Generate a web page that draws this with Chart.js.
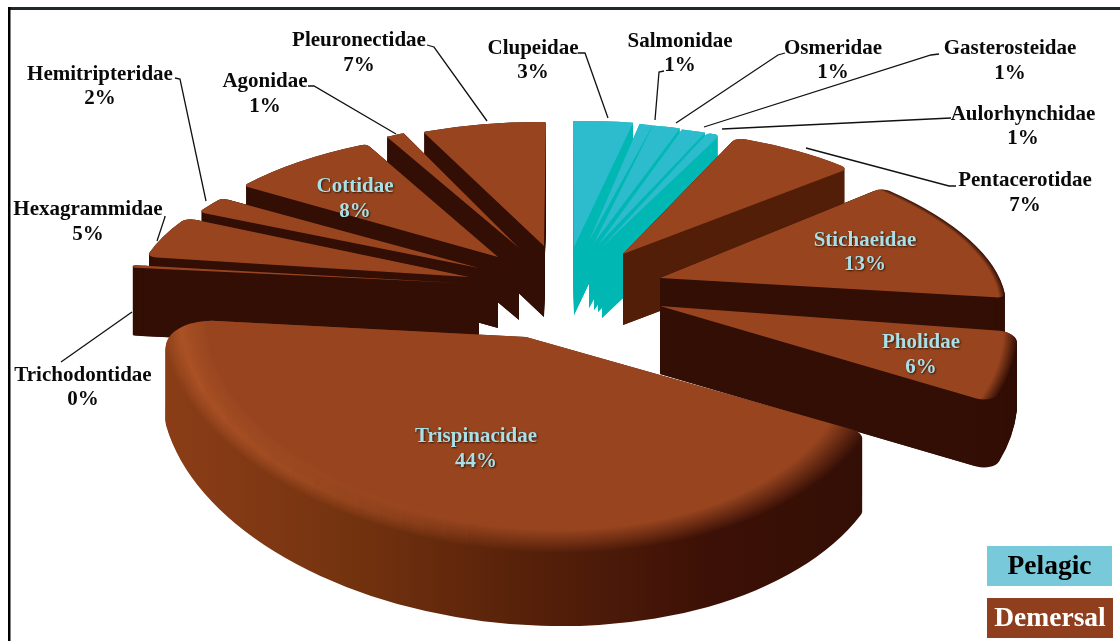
<!DOCTYPE html>
<html><head><meta charset="utf-8">
<style>html,body{margin:0;padding:0;background:#fff}canvas{display:block}</style>
<script src="https://cdn.jsdelivr.net/npm/chart.js@4"></script></head>
<body><canvas id="c" width="1120" height="641"></canvas>
<script>
// ---- data (percent shares; 1% slices differ slightly in width)
const families = ["Clupeidae","Salmonidae","Osmeridae","Gasterosteidae","Aulorhynchidae","Pentacerotidae","Stichaeidae","Pholidae","Trispinacidae","Trichodontidae","Hexagrammidae","Hemitripteridae","Cottidae","Agonidae","Pleuronectidae"];
const shares   = [3,0.8,1.4,1.2,0.7,7,13,5.8,44,0.3,5,2,8,1,6.8];
const habitat  = ["P","P","P","P","P","D","D","D","D","D","D","D","D","D","D"];
const legendNames = {P:"Pelagic",D:"Demersal"};

// ---- 3-D look: where each exploded slice's tip sits, its projection, depth
const tips = [[574,247],[589,241],[594,243],[598,245],[602,247],[623,254],[660,278],[660,306],[526,337],[460,283],[469,277],[479,268],[498,257],[519,248],[544,246]];
const projections = [[321,1,-2,126],[265,-1,0,119],[315,16,0,121],[321,20,0,122],[300,13,0,124],[310,23,-8,125],[340,65,1,144],[355,43,-1,206],[362,47,-7,216],[330,0,0,130],[330,-33,2,131],[325,-28,0,128],[317,-20,2,127],[296,-8,0,126],[296,-2,3,124]];
const depths  = [68,67,67,67,71,71,70,68,73,68,68,68,71,72,71];
const rimFade = [0,0,0,0,0,0,.02,.04,.11,0,0,0,0,0,0];
const cornerStart = [0,0,0,0,.02,.03,.03,.05,.04,.03,.03,.02,.02,0,.01];
const cornerEnd   = [0,0,0,0,.02,.03,.03,.05,.14,.03,.03,.02,.02,0,.01];
const drawOrder = [0,1,2,3,4,5,6,7,14,13,12,11,10,9,8];
const topColors = {P:"#2cbccd",D:"#98451f"};
const wallColors = {P:"#00b7b4",D:"#320e05",5:"#521e07"};
const trisWallStops = [[0,"#8a3d17"],[.2,"#74330f"],[.42,"#58220a"],[.7,"#3c1006"],[1,"#300e05"]];
const RIM_INDEX = 8;

// ---- labels
const labelAt = [[533,47,71],[680,40,64],[833,47,71],[1010,47,72],[1023,113,137],[1025,179,204],[865,239,263],[921,341,366],[476,435,460],[83,374,398],[88,208,233],[100,73,97],[355,185,210],[265,80,105],[359,39,64]];
const insideLabel = [8,6,7,12];
const leaders = [[[578,53],[585,53],[608,118]],[[664,71],[659,72],[655,120]],[[785,53],[778,55],[676,123]],[[939,54],[931,55],[704,127]],[[951,118],[722,129]],[[956,186],[949,186],[806,148]],null,null,null,[[61,362],[132,312]],[[164,217],[165,217],[157,241]],[[175,78],[180,79],[206,201]],null,[[308,86],[314,86],[396,134]],[[427,45],[434,47],[487,121]]];
const legendBoxes = [{k:"P",x:987,y:546,w:125,h:40,bg:"#78c9da",fg:"#000000"},{k:"D",x:987,y:598,w:126,h:40,bg:"#8f3f1d",fg:"#ffffff"}];

function withOptions(arc, patch, fn){
  const saved = arc.options;
  arc.options = Object.assign({}, saved, patch);
  fn();
  arc.options = saved;
}
const pie3d = {
  id:"pie3d",
  beforeDatasetDraw(chart,args){
    const ctx = chart.ctx, arcs = args.meta.data;
    drawOrder.forEach(i=>{
      const arc = arcs[i], R = arc.outerRadius, cx = arc.x, cy = arc.y;
      const [a,b,c,d] = projections[i];
      const [tx,ty] = tips[i];
      const place = t => { ctx.translate(tx, ty+t); ctx.transform(a/R,c/R,b/R,d/R,0,0); ctx.translate(-cx,-cy); };
      const isRim = i===RIM_INDEX;
      let wall = wallColors[i] || wallColors[habitat[i]];
      if(isRim){
        wall = ctx.createLinearGradient(cx-R,0,cx+R,0);
        trisWallStops.forEach(s=>wall.addColorStop(s[0],s[1]));
      }
      for(let t=depths[i];t>=0;t--){
        ctx.save(); place(t);
        withOptions(arc,{backgroundColor:wall},()=>arc.draw(ctx));
        ctx.restore();
      }
      if(!isRim){
        // crisp cut faces: sweep both straight edges of the slice downward
        const k = 1 - Math.max(cornerStart[i],cornerEnd[i]) - .003, D = depths[i];
        ctx.fillStyle = wall;
        [arc.startAngle,arc.endAngle].forEach(ang=>{
          const x = Math.cos(ang)*k, y = Math.sin(ang)*k;
          const px = tx + a*x + b*y, py = ty + c*x + d*y;
          ctx.beginPath(); ctx.moveTo(tx,ty); ctx.lineTo(px,py); ctx.lineTo(px,py+D); ctx.lineTo(tx,ty+D); ctx.closePath(); ctx.fill();
        });
      }
      let top = topColors[habitat[i]];
      if(rimFade[i]>0){
        const g = ctx.createRadialGradient(cx,cy,0,cx,cy,R);
        g.addColorStop(0,top); g.addColorStop(1-rimFade[i],top); g.addColorStop(1,"rgba(152,69,31,0)");
        top = g;
      }
      ctx.save(); place(0);
      withOptions(arc,{backgroundColor:top},()=>arc.draw(ctx));
      ctx.restore();
      if(isRim){
        // lit bevel on the left part of the big slice's rim
        const g = ctx.createRadialGradient(cx,cy,0,cx,cy,R);
        g.addColorStop(0,"rgba(182,88,42,0)"); g.addColorStop(.875,"rgba(182,88,42,0)");
        g.addColorStop(.945,"rgba(182,88,42,1)"); g.addColorStop(1,"rgba(182,88,42,0)");
        for(let n=0;n<14;n++){
          ctx.save();
          ctx.beginPath(); ctx.rect(160+n*22,300,22,320); ctx.clip();
          ctx.globalAlpha = .75*(1-n/14);
          place(0);
          withOptions(arc,{backgroundColor:g},()=>arc.draw(ctx));
          ctx.restore();
        }
      }
    });
    return false;
  },
  beforeDraw(chart){
    const ctx = chart.ctx;
    ctx.save();
    ctx.fillStyle="#fff"; ctx.fillRect(0,0,1120,641);
    ctx.fillStyle="#20282c"; ctx.fillRect(8,7,1112,3);
    ctx.fillStyle="#000"; ctx.fillRect(8,7,2.5,634);
    ctx.restore();
  },
  afterDraw(chart){
    const ctx = chart.ctx;
    ctx.save();
    ctx.strokeStyle="#111"; ctx.lineWidth=1.3;
    leaders.forEach(l=>{ if(!l) return; ctx.beginPath(); l.forEach((p,j)=>j?ctx.lineTo(p[0],p[1]):ctx.moveTo(p[0],p[1])); ctx.stroke(); });
    ctx.textAlign="center"; ctx.textBaseline="middle";
    ctx.font='bold 21px "Liberation Serif"';
    families.forEach((name,i)=>{
      const inside = insideLabel.includes(i);
      ctx.fillStyle = inside ? "#a9dfe6" : "#0a0a0a";
      ctx.shadowColor = inside ? "rgba(30,10,0,.8)" : "transparent";
      ctx.shadowBlur = inside ? 2 : 0; ctx.shadowOffsetX = inside?1:0; ctx.shadowOffsetY = inside?1:0;
      ctx.fillText(name,labelAt[i][0],labelAt[i][1]+1.5);
      ctx.fillText(Math.round(shares[i])+"%",labelAt[i][0],labelAt[i][2]+1.5);
    });
    ctx.shadowColor="transparent"; ctx.shadowBlur=0; ctx.shadowOffsetX=0; ctx.shadowOffsetY=0;
    ctx.font='bold 27.5px "Liberation Serif"';
    legendBoxes.forEach(b=>{
      ctx.fillStyle=b.bg; ctx.fillRect(b.x,b.y,b.w,b.h);
      ctx.fillStyle=b.fg; ctx.fillText(legendNames[b.k],b.x+b.w/2,b.y+b.h/2+1);
    });
    ctx.restore();
  }
};
new Chart(document.getElementById("c"),{
  type:"pie",
  data:{labels:families,datasets:[{data:shares,borderWidth:0,
    backgroundColor:habitat.map(h=>topColors[h]),
    borderRadius:ctx=>({outerStart:cornerStart[ctx.dataIndex]*320,outerEnd:cornerEnd[ctx.dataIndex]*320,innerStart:0,innerEnd:0})}]},
  options:{responsive:false,animation:false,rotation:0,
    plugins:{legend:{display:false},tooltip:{enabled:false}}},
  plugins:[pie3d]
});
</script></body></html>
